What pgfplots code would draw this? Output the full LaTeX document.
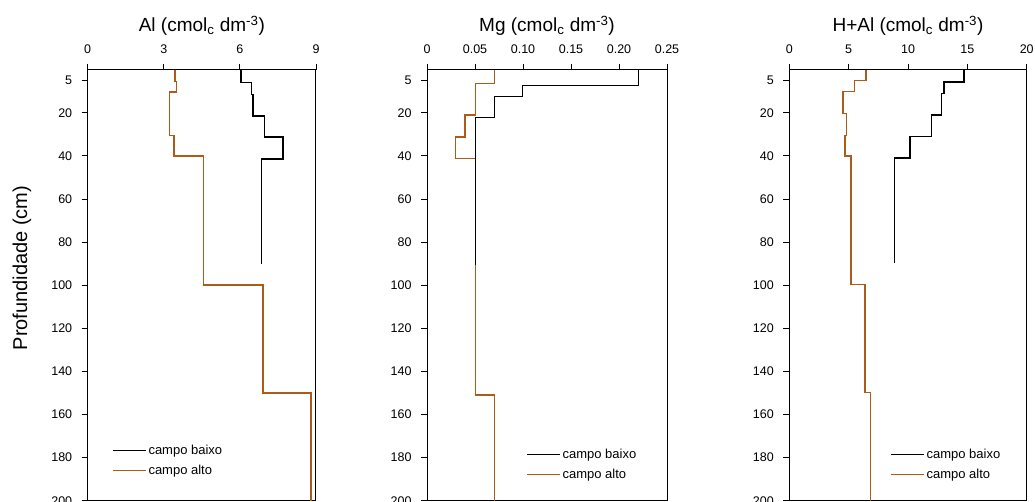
\documentclass[border=0pt]{standalone}
\usepackage{pgfplots}
\pgfplotsset{compat=1.18}
\usepackage{fontspec}
\setmainfont{Liberation Sans}
\definecolor{brownline}{RGB}{170,92,24}
\pgfplotsset{
  prof/.style={
    scale only axis,
    height=431pt,
    y dir=reverse,
    ymin=0, ymax=200,
    ytick={5,20,40,60,80,100,120,140,160,180,200},
    yticklabels={5,20,40,60,80,100,120,140,160,180,200},
    xtick pos=upper, xticklabel pos=upper,
    ytick pos=left,
    tick align=outside,
    major tick length=6pt,
    tick style={black, line width=0.8pt},
    axis line style={black, line width=1pt},
    ticklabel style={font=\fontsize{12.5}{12.5}\selectfont},
    xticklabel style={yshift=7pt},
    yticklabel style={xshift=-6pt},
    title style={font=\fontsize{19}{19}\selectfont, at={(0.5,1)}, anchor=base, yshift=32pt},
    legend style={draw=none, fill=none, font=\fontsize{13}{13}\selectfont, inner sep=0pt,
      row sep=5pt, /tikz/every even column/.append style={column sep=8pt}},
    legend cell align=left,
    reverse legend,
    legend image code/.code={\draw[##1] (0pt,0pt) -- (33pt,0pt);},
  },
  baixo/.style={black, line width=1.4pt},
  alto/.style={brownline, line width=1.4pt},
}
\begin{document}
\begin{tikzpicture}
\useasboundingbox (0pt,0pt) rectangle (1035pt,502pt);
% Panel 1: Al
\begin{axis}[prof, at={(87.7pt,1.3pt)}, anchor=south west, width=228.3pt,
  xmin=0, xmax=9, xtick={0,3,6,9}, xticklabels={0,3,6,9},
  title={Al (cmol\textsubscript{c} dm\textsuperscript{-3})},
  ylabel={Profundidade (cm)},
  ylabel style={font=\fontsize{20}{20}\selectfont, at={(rel axis cs:0,0.54)}, anchor=south, yshift=53pt},
  legend style={at={(0.106,0.134)}, anchor=north west}]
\addplot[alto] coordinates {(3.44,0)(3.44,5.6)(3.49,5.6)(3.49,10.3)(3.22,10.3)(3.22,30.4)(3.40,30.4)(3.40,40.1)(4.57,40.1)(4.57,100)(6.91,100)(6.91,150)(8.80,150)(8.80,200)};
\addlegendentry{campo alto}
\addplot[baixo] coordinates {(6.05,0)(6.05,6)(6.46,6)(6.46,11.5)(6.52,11.5)(6.52,21.4)(6.96,21.4)(6.96,31.3)(7.70,31.3)(7.70,41.5)(6.86,41.5)(6.86,90)};
\addlegendentry{campo baixo}
\end{axis}
% Panel 2: Mg
\begin{axis}[prof, at={(427pt,1.3pt)}, anchor=south west, width=240pt,
  xmin=0, xmax=0.25, xtick={0,0.05,0.10,0.15,0.20,0.25}, xticklabels={0,0.05,0.10,0.15,0.20,0.25},
  title={Mg (cmol\textsubscript{c} dm\textsuperscript{-3})},
  legend style={at={(0.4125,0.125)}, anchor=north west}]
\addplot[alto] coordinates {(0.0701,0)(0.0701,6.3)(0.0503,6.3)(0.0503,21.1)(0.0396,21.1)(0.0396,31.3)(0.0299,31.3)(0.0299,41.2)(0.0503,41.2)(0.0503,151)(0.0701,151)(0.0701,200)};
\addlegendentry{campo alto}
\addplot[baixo] coordinates {(0.2205,0)(0.2205,7.2)(0.0997,7.2)(0.0997,12.3)(0.0701,12.3)(0.0701,22.3)(0.0503,22.3)(0.0503,90.7)};
\addlegendentry{campo baixo}
\end{axis}
% Panel 3: H+Al
\begin{axis}[prof, at={(789.3pt,1.3pt)}, anchor=south west, width=237.4pt,
  xmin=0, xmax=20, xtick={0,5,10,15,20}, xticklabels={0,5,10,15,20},
  title={H+Al (cmol\textsubscript{c} dm\textsuperscript{-3})},
  legend style={at={(0.424,0.125)}, anchor=north west}]
\addplot[alto] coordinates {(6.46,0)(6.46,5.0)(5.51,5.0)(5.51,10.0)(4.52,10.0)(4.52,20.2)(4.80,20.2)(4.80,30.4)(4.70,30.4)(4.70,40.0)(5.20,40.0)(5.20,99.8)(6.38,99.8)(6.38,149.9)(6.83,149.9)(6.83,200)};
\addlegendentry{campo alto}
\addplot[baixo] coordinates {(14.72,0)(14.72,5.8)(13.03,5.8)(13.03,11.0)(12.84,11.0)(12.84,21.0)(12.0,21.0)(12.0,31.0)(10.17,31.0)(10.17,41.0)(8.85,41.0)(8.85,89.9)};
\addlegendentry{campo baixo}
\end{axis}
\end{tikzpicture}
\end{document}
